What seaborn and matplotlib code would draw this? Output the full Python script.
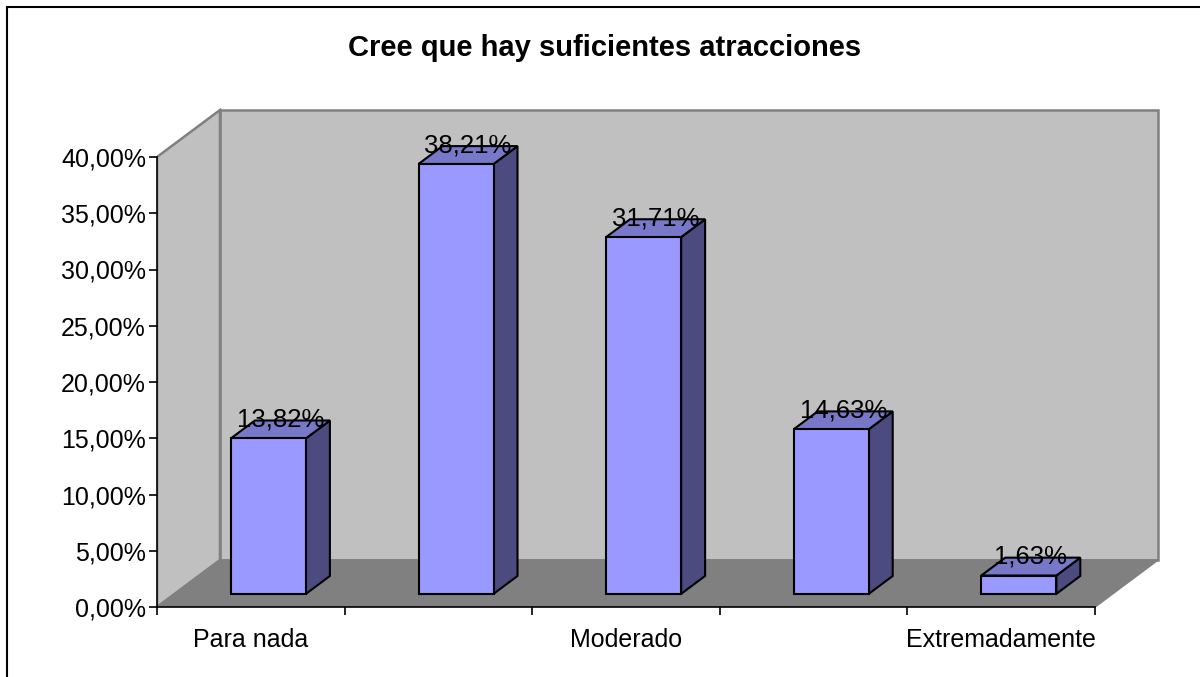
import numpy as np
import matplotlib
matplotlib.use("Agg")
import matplotlib.pyplot as plt
import matplotlib.patches as mpatches
import seaborn as sns

# data
categorias = ["Para nada", "Poco", "Moderado", "Mucho", "Extremadamente"]
etiquetas_x = ["Para nada", "", "Moderado", "", "Extremadamente"]
valores = [13.82, 38.21, 31.71, 14.63, 1.63]
ticks_y = [0, 5, 10, 15, 20, 25, 30, 35, 40]

sns.set_style("white")
plt.rcParams['font.family'] = ['Liberation Sans', 'DejaVu Sans']
plt.rcParams['text.color'] = 'black'
plt.rcParams['xtick.color'] = 'black'
plt.rcParams['ytick.color'] = 'black'

fig = plt.figure(figsize=(12, 6.77), dpi=100)
W, H = 1200, 677
# axes box in pixels: x 157..1160, y 108..607
ax = fig.add_axes([157 / W, (H - 607) / H, 1003 / W, 499 / H])

# depth offset of the pseudo-3d box (in data units)
DX = 63 / 187.6
DY = 47 / 11.25
z0, z1 = 0.28, 0.66   # bar front / back depth

# walls and floor
x0, x1 = -0.5, len(valores) - 0.5
ymax = ticks_y[-1]
wall = "#C0C0C0"
edge = "#808080"
ax.fill([x0 + DX, x1 + DX, x1 + DX, x0 + DX], [DY, DY, ymax + DY, ymax + DY],
        color=wall, ec=edge, lw=1.8, zorder=0)
ax.fill([x0, x0 + DX, x0 + DX, x0], [0, DY, ymax + DY, ymax],
        color=wall, ec=edge, lw=1.8, zorder=0)
ax.fill([x0, x1, x1 + DX, x0 + DX], [0, 0, DY, DY],
        color="#808080", ec=edge, lw=1.2, zorder=0.5)

# front faces through seaborn
sns.barplot(x=categorias, y=valores, width=0.4, color="#9999FF",
            saturation=1, edgecolor="black", linewidth=1.5, ax=ax, zorder=3)

for p, v in zip(ax.containers[0], valores):
    p.set_x(p.get_x() + z0 * DX)
    p.set_y(z0 * DY)
    xl, xr = p.get_x(), p.get_x() + p.get_width()
    yb, yt = p.get_y(), p.get_y() + p.get_height()
    d = (z1 - z0)
    # side face
    ax.fill([xr, xr + d * DX, xr + d * DX, xr], [yb, yb + d * DY, yt + d * DY, yt],
            color="#4B4B80", ec="black", lw=1.5, zorder=2.5)
    # top face
    ax.fill([xl, xr, xr + d * DX, xl + d * DX], [yt, yt, yt + d * DY, yt + d * DY],
            color="#7878C8", ec="black", lw=1.5, zorder=2.5)
    cx = (xl + xr) / 2 + d / 2 * DX
    cy = yt + d / 2 * DY
    ax.annotate(f"{v:.2f}%".replace(".", ","), (cx, cy), xytext=(0, 7),
                textcoords="offset points", ha="center", va="center",
                fontsize=18.5, zorder=5)

ax.set_xlim(x0, x0 + 1003 / 187.6)
ax.set_ylim(0, 499 / 11.25)

ax.set_yticks(ticks_y)
ax.set_yticklabels([f"{t:.2f}%".replace(".", ",") for t in ticks_y], fontsize=18)
ax.set_xticks(np.arange(x0, x1 + 0.01, 1.0))
ax.set_xticklabels([])
ax.set_xticks(range(len(categorias)), minor=True)
ax.set_xticklabels(etiquetas_x, minor=True, fontsize=18)
ax.tick_params(axis="x", which="minor", length=0, pad=15)
ax.tick_params(axis="both", which="major", direction="out", length=6,
               width=1.2, color="black", left=True, bottom=True, pad=2)
ax.set_xlabel("")
ax.set_ylabel("")

for s in ["top", "right"]:
    ax.spines[s].set_visible(False)
for s in ["left", "bottom"]:
    ax.spines[s].set_color("black")
    ax.spines[s].set_linewidth(1.2)
ax.spines["left"].set_bounds(0, ymax)
ax.spines["bottom"].set_bounds(x0, x1)
ax.patch.set_alpha(0)

fig.text(0.504, 1 - 48 / H, "Cree que hay suficientes atracciones",
         ha="center", va="center", fontsize=21, fontweight="bold")

fig.add_artist(mpatches.Rectangle((7 / W, -0.02), 1.05, 1 - 7 / H + 0.02,
                                  transform=fig.transFigure, fill=False,
                                  ec="black", lw=1.5))

fig.savefig("out.png", dpi=100)
